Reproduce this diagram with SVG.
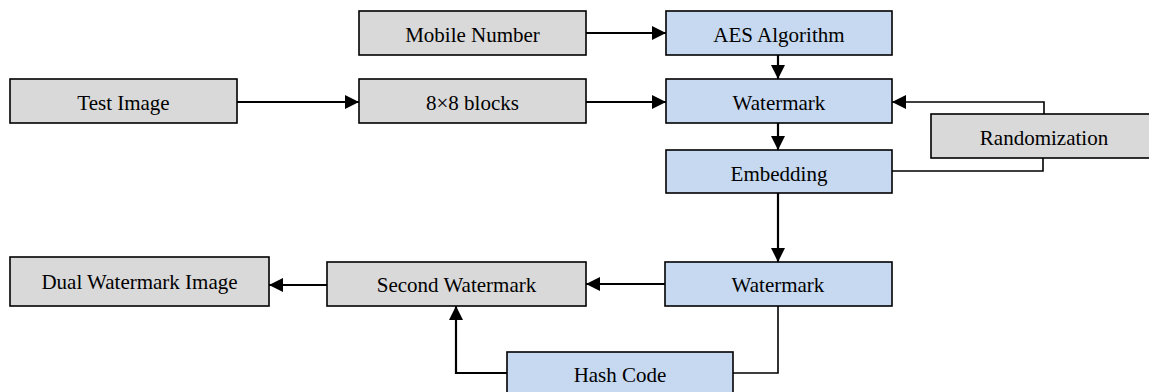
<svg xmlns="http://www.w3.org/2000/svg" width="1149" height="392" viewBox="0 0 1149 392">
<style>
.g{fill:#d9d9d9;stroke:#000;stroke-width:1.6}
.b{fill:#c6d9f1;stroke:#000;stroke-width:1.6}
text{font-family:"Liberation Serif","Times New Roman",serif;font-size:21px;fill:#000;text-anchor:middle}
.a{fill:none;stroke:#000;stroke-width:2.2;marker-end:url(#ah)}
.t{fill:none;stroke:#000;stroke-width:1.6}
.ta{fill:none;stroke:#000;stroke-width:1.6;marker-end:url(#ah)}
</style>
<defs>
<marker id="ah" markerUnits="userSpaceOnUse" markerWidth="16" markerHeight="16" viewBox="0 0 16 16" refX="15" refY="8" orient="auto">
<path d="M1,1 L15,8 L1,15 Z" fill="#000"/>
</marker>
</defs>
<rect width="1149" height="392" fill="#fff"/>
<g id="connectors">
<path class="a" d="M586,33 H666"/>
<path class="a" d="M237,102 H359"/>
<path class="a" d="M586,102 H666"/>
<path class="a" d="M778,55 V79"/>
<path class="a" d="M778,123 V150"/>
<path class="ta" d="M1044,114 V102 H892"/>
<path class="t" d="M892,171 H1043 V158"/>
<path class="a" d="M778,193 V262"/>
<path class="a" d="M665,284 H586"/>
<path class="a" d="M327,285 H269"/>
<path class="t" d="M778,306 V373 H733"/>
<path class="a" d="M507,373 H456 V306"/>
</g>
<g id="mobile"><rect class="g" x="359" y="11" width="227" height="44"/><text x="472.5" y="42">Mobile Number</text></g>
<g id="aes"><rect class="b" x="666" y="11" width="226" height="44"/><text x="779" y="42">AES Algorithm</text></g>
<g id="test"><rect class="g" x="10" y="79" width="227" height="44"/><text x="123.5" y="110">Test Image</text></g>
<g id="blocks"><rect class="g" x="359" y="79" width="227" height="44"/><text x="472.5" y="110">8×8 blocks</text></g>
<g id="watermark1"><rect class="b" x="666" y="79" width="226" height="44"/><text x="779" y="110">Watermark</text></g>
<g id="randomization"><rect class="g" x="931" y="114" width="226" height="44"/><text x="1044" y="145">Randomization</text></g>
<g id="embedding"><rect class="b" x="666" y="150" width="226" height="43"/><text x="779" y="181">Embedding</text></g>
<g id="watermark2"><rect class="b" x="665" y="262" width="227" height="44"/><text x="778" y="292">Watermark</text></g>
<g id="second"><rect class="g" x="327" y="262" width="259" height="44"/><text x="456.5" y="292">Second Watermark</text></g>
<g id="dual"><rect class="g" x="10" y="257" width="259" height="49"/><text x="139.5" y="289">Dual Watermark Image</text></g>
<g id="hash"><rect class="b" x="507" y="352" width="226" height="50"/><text x="620" y="382">Hash Code</text></g>
</svg>
